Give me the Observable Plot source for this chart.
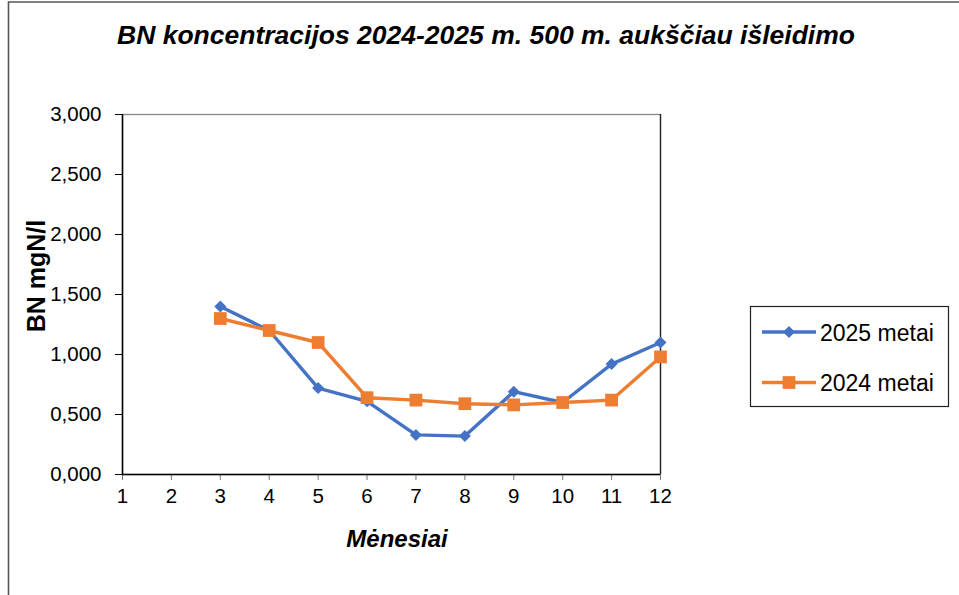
<!DOCTYPE html>
<html>
<head>
<meta charset="utf-8">
<script src="https://cdn.jsdelivr.net/npm/d3@7"></script>
<script src="https://cdn.jsdelivr.net/npm/@observablehq/plot@0.6"></script>
<style>
  body { margin: 0; background: #fff; }
  #wrap { position: relative; width: 959px; height: 595px; overflow: hidden; background: #fff;
          font-family: "Liberation Sans", Arial, sans-serif; }
  #wrap svg { position: absolute; left: 0; top: 0; }
</style>
</head>
<body>
<div id="wrap"></div>
<script>
// ---- data ----
const titleText = "BN koncentracijos 2024-2025 m. 500 m. aukščiau išleidimo";
const xLabel = "Mėnesiai";
const yLabel = "BN mgN/l";
const monthTicks = [1, 2, 3, 4, 5, 6, 7, 8, 9, 10, 11, 12];
const yTicks = [0, 0.5, 1, 1.5, 2, 2.5, 3];
const seriesNames = ["2025 metai", "2024 metai"];
const seriesColors = ["#4472C4", "#ED7D31"];
const seriesSymbols = ["diamond2", "square"];
const months2025 = [3, 4, 5, 6, 7, 8, 9, 10, 11, 12];
const values2025 = [1.40, 1.20, 0.72, 0.61, 0.33, 0.32, 0.69, 0.60, 0.92, 1.10];
const months2024 = [3, 4, 5, 6, 7, 8, 9, 10, 11, 12];
const values2024 = [1.30, 1.20, 1.10, 0.64, 0.62, 0.59, 0.58, 0.60, 0.62, 0.98];

const data2025 = months2025.map((m, i) => ({month: m, value: values2025[i]}));
const data2024 = months2024.map((m, i) => ({month: m, value: values2024[i]}));

const fmt = d => d.toFixed(3).replace(".", ",");
const FONT = "Liberation Sans, Arial, sans-serif";

const chart = Plot.plot({
  width: 959,
  height: 595,
  marginLeft: 122,
  marginRight: 299,
  marginTop: 114,
  marginBottom: 121,
  style: {fontFamily: FONT, background: "transparent", color: "#000"},
  x: {domain: [1, 12]},
  y: {domain: [0, 3]},
  marks: [
    Plot.frame({stroke: "#888", strokeWidth: 1.3}),
    Plot.ruleX([12], {stroke: "#222", strokeWidth: 1.3}),
    Plot.axisY({ticks: yTicks, tickFormat: fmt, tickSize: 7, tickPadding: 14, fontSize: 20.5, label: null, stroke: "#000"}),
    Plot.axisX({ticks: monthTicks, tickFormat: d => String(d), tickSize: 6, tickPadding: 8, fontSize: 20.5, label: null, stroke: "#777"}),
    Plot.ruleX([1], {stroke: "#000", strokeWidth: 1.5}),
    Plot.ruleY([0], {stroke: "#000", strokeWidth: 1.5}),
    Plot.line(data2025, {x: "month", y: "value", stroke: seriesColors[0], strokeWidth: 3.4}),
    Plot.dot(data2025, {x: "month", y: "value", fill: seriesColors[0], symbol: seriesSymbols[0], r: 5.4}),
    Plot.line(data2024, {x: "month", y: "value", stroke: seriesColors[1], strokeWidth: 3.4}),
    Plot.dot(data2024, {x: "month", y: "value", fill: seriesColors[1], symbol: seriesSymbols[1], r: 7.2})
  ]
});
document.getElementById("wrap").appendChild(chart);

// ---- overlay: border, title, axis labels, legend ----
const ov = d3.select("#wrap").append("svg")
  .attr("width", 959).attr("height", 595)
  .style("font-family", FONT);

// outer chart-area border (left and top visible)
ov.append("path").attr("d", "M8.5,595 L8.5,2 L959,2")
  .attr("fill", "none").attr("stroke", "#555").attr("stroke-width", 1.6);

ov.append("text").text(titleText)
  .attr("x", 486).attr("y", 44).attr("text-anchor", "middle")
  .attr("font-size", 26.5).attr("font-weight", "bold").attr("font-style", "italic");

ov.append("text").text(xLabel)
  .attr("x", 397).attr("y", 547).attr("text-anchor", "middle")
  .attr("font-size", 24).attr("font-weight", "bold").attr("font-style", "italic");

ov.append("text").text(yLabel)
  .attr("transform", "translate(45,276) rotate(-90)").attr("text-anchor", "middle")
  .attr("font-size", 25).attr("font-weight", "bold");

// legend
const lg = ov.append("g");
lg.append("rect").attr("x", 750.5).attr("y", 306.5).attr("width", 198).attr("height", 100)
  .attr("fill", "#fff").attr("stroke", "#222").attr("stroke-width", 1.2);
seriesNames.forEach((name, i) => {
  const y = 332 + i * 50.5;
  lg.append("line").attr("x1", 762).attr("x2", 816).attr("y1", y).attr("y2", y)
    .attr("stroke", seriesColors[i]).attr("stroke-width", 3.4);
  const sym = i === 0 ? d3.symbolDiamond2 : d3.symbolSquare;
  const r = i === 0 ? 5.4 : 7.2;
  lg.append("path").attr("d", d3.symbol(sym, Math.PI * r * r)())
    .attr("transform", `translate(789,${y})`).attr("fill", seriesColors[i]);
  lg.append("text").text(name).attr("x", 820).attr("y", y + 8.5)
    .attr("font-size", 23);
});
</script>
</body>
</html>
